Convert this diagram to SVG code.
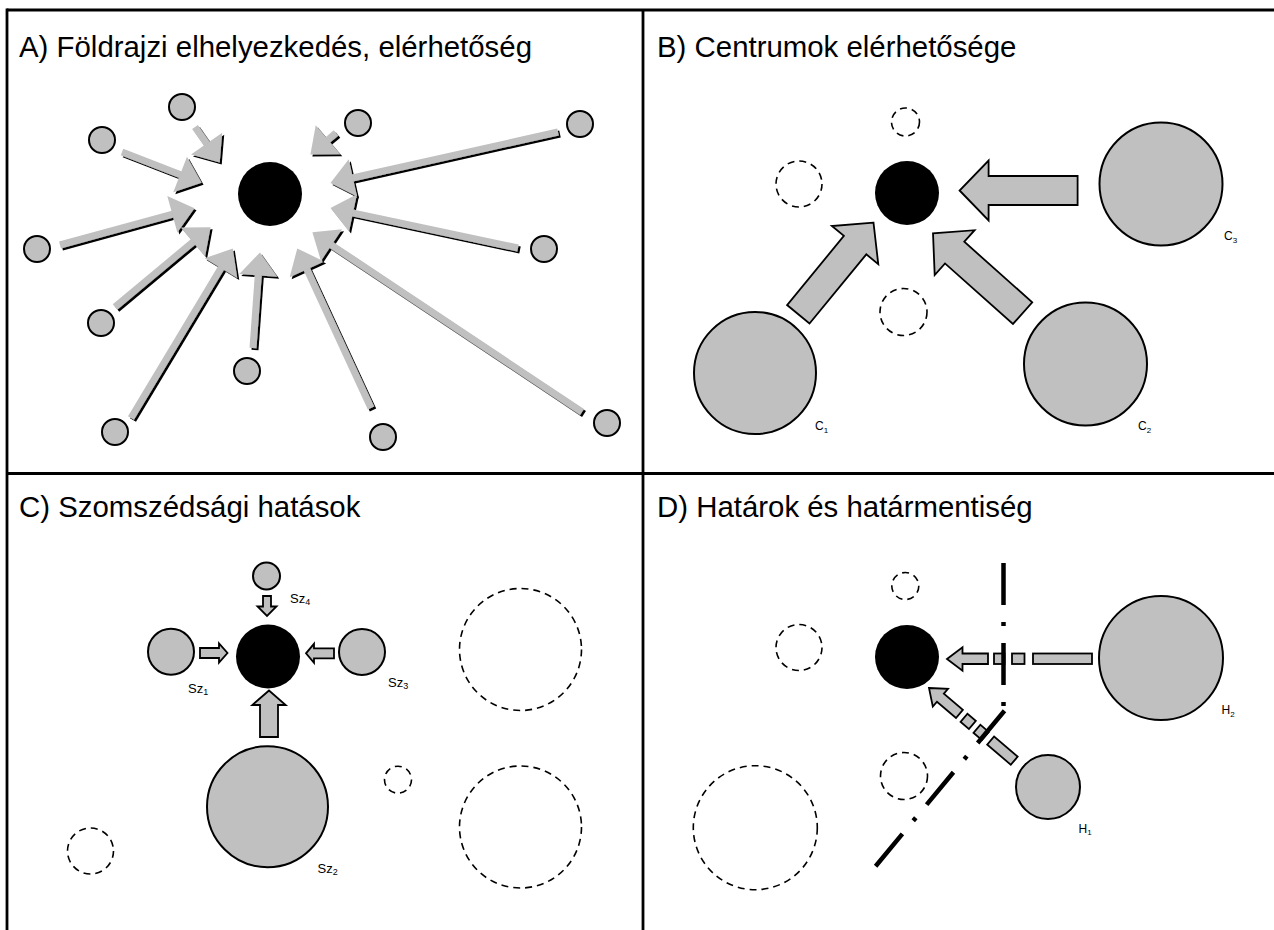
<svg xmlns="http://www.w3.org/2000/svg" width="1274" height="930" viewBox="0 0 1274 930">
<style>
.title{font-family:"Liberation Sans",Arial,sans-serif;font-size:29.4px;fill:#000}
.lbl{font-family:"Liberation Sans",Arial,sans-serif;font-size:13px;fill:#000}
.lblc{font-family:"Liberation Sans",Arial,sans-serif;font-size:12px;fill:#000}
.g{fill:#c0c0c0;stroke:#000;stroke-width:2}
.blk{fill:#000}
.dash{fill:none;stroke:#000;stroke-width:1.6;stroke-dasharray:7 5}
.ar{stroke:#c0c0c0;stroke-width:7;fill:none;marker-end:url(#ahA);filter:url(#sh)}
.ba{fill:#c0c0c0;stroke:#000;stroke-width:1.8;stroke-linejoin:miter}
.bd{fill:none;stroke:#000;stroke-width:4.5;stroke-dasharray:42 17 4 17}
.frame{stroke:#000;stroke-width:2.8;fill:none}
</style>
<defs>
<marker id="ahA" markerUnits="userSpaceOnUse" viewBox="0 0 23 38" markerWidth="23" markerHeight="38" refX="0.5" refY="19" orient="auto" overflow="visible">
<path d="M0,0 L23,19 L0,38 Z" fill="#c0c0c0"/>
</marker>
<filter id="sh" filterUnits="userSpaceOnUse" x="0" y="0" width="1274" height="930">
<feOffset in="SourceAlpha" dx="2" dy="2" result="o"/>
<feMerge><feMergeNode in="o"/><feMergeNode in="SourceGraphic"/></feMerge>
</filter>
</defs>
<rect width="1274" height="930" fill="#fff"/>
<g id="frame">
<line class="frame" x1="7" y1="10" x2="1274" y2="10"/>
<line class="frame" x1="7" y1="8.6" x2="7" y2="930"/>
<line class="frame" x1="643" y1="10" x2="643" y2="930"/>
<line class="frame" x1="7" y1="473.5" x2="1274" y2="473.5"/>
</g>
<g id="titles">
<text class="title" x="19" y="57">A) Földrajzi elhelyezkedés, elérhetőség</text>
<text class="title" x="657" y="57">B) Centrumok elérhetősége</text>
<text class="title" x="19" y="517">C) Szomszédsági hatások</text>
<text class="title" x="657" y="517">D) Határok és határmentiség</text>
</g>
<!-- Panel A -->
<g id="panelA-connectors">
<line class="ar" x1="195" y1="127" x2="206.9" y2="144.1"/>
<line class="ar" x1="122" y1="152" x2="180.6" y2="174.7"/>
<line class="ar" x1="336" y1="133" x2="327.6" y2="140.1"/>
<line class="ar" x1="558" y1="132" x2="352.4" y2="178"/>
<line class="ar" x1="60" y1="245" x2="172.8" y2="214.1"/>
<line class="ar" x1="518" y1="248" x2="352.5" y2="212.8"/>
<line class="ar" x1="115" y1="307" x2="193.3" y2="241.7"/>
<line class="ar" x1="131" y1="418" x2="221.2" y2="267.7"/>
<line class="ar" x1="253" y1="348" x2="258.3" y2="274.9"/>
<line class="ar" x1="371" y1="408" x2="306.7" y2="268.9"/>
<line class="ar" x1="582" y1="412" x2="331.1" y2="244.8"/>
</g>
<g id="A-center"><circle class="blk" cx="270" cy="194" r="32"/></g>
<g id="A-nodes">
<circle class="g" cx="182" cy="107" r="13"/>
<circle class="g" cx="102" cy="140" r="13"/>
<circle class="g" cx="358" cy="123" r="13"/>
<circle class="g" cx="580" cy="124" r="13"/>
<circle class="g" cx="37" cy="249" r="13"/>
<circle class="g" cx="544" cy="249" r="13"/>
<circle class="g" cx="101" cy="323" r="13"/>
<circle class="g" cx="247" cy="371" r="13"/>
<circle class="g" cx="115" cy="432" r="13"/>
<circle class="g" cx="383" cy="437" r="13"/>
<circle class="g" cx="607" cy="423" r="13"/>
</g>
<!-- Panel B -->
<g id="B-center"><circle class="blk" cx="907" cy="193" r="32"/></g>
<g id="B-empty">
<circle class="dash" cx="905.5" cy="122" r="14"/>
<circle class="dash" cx="799" cy="184" r="23"/>
<circle class="dash" cx="903.5" cy="312" r="23.5"/>
</g>
<g id="B-C1"><circle class="g" cx="755" cy="373" r="61"/><text class="lblc" x="815" y="430">C<tspan font-size="8" dy="2.5">1</tspan></text></g>
<g id="B-C2"><circle class="g" cx="1085.5" cy="364" r="61.5"/><text class="lblc" x="1138" y="430">C<tspan font-size="8" dy="2.5">2</tspan></text></g>
<g id="B-C3"><circle class="g" cx="1161" cy="184" r="61.5"/><text class="lblc" x="1224" y="240">C<tspan font-size="8" dy="2.5">3</tspan></text></g>
<g id="B-connectors">
<polygon class="ba" transform="translate(959.6,190.5) rotate(180)" points="0,0 -29,-30 -29,-14.5 -118,-14.5 -118,14.5 -29,14.5 -29,30"/>
<polygon class="ba" transform="translate(873.5,222.7) rotate(-50.6)" points="0,0 -29,-30 -29,-14.5 -118.5,-14.5 -118.5,14.5 -29,14.5 -29,30"/>
<polygon class="ba" transform="translate(933,233.3) rotate(221.7)" points="0,0 -29,-30 -29,-14.5 -120,-14.5 -120,14.5 -29,14.5 -29,30"/>
</g>
<!-- Panel C -->
<g id="C-center"><circle class="blk" cx="268" cy="656.5" r="32"/></g>
<g id="C-Sz4"><circle class="g" cx="266.5" cy="576" r="13.5"/><text class="lbl" x="290" y="603">Sz<tspan font-size="9" dy="2">4</tspan></text></g>
<g id="C-Sz1"><circle class="g" cx="171" cy="651.7" r="23"/><text class="lbl" x="188" y="693">Sz<tspan font-size="9" dy="2">1</tspan></text></g>
<g id="C-Sz3"><circle class="g" cx="362" cy="652" r="23"/><text class="lbl" x="388" y="687">Sz<tspan font-size="9" dy="2">3</tspan></text></g>
<g id="C-Sz2"><circle class="g" cx="267.5" cy="806.7" r="60.5"/><text class="lbl" x="317.5" y="873">Sz<tspan font-size="9" dy="2">2</tspan></text></g>
<g id="C-empty">
<circle class="dash" cx="520.5" cy="649.5" r="61"/>
<circle class="dash" cx="520.5" cy="827" r="61"/>
<circle class="dash" cx="398" cy="779.7" r="13.5"/>
<circle class="dash" cx="90.5" cy="851" r="23"/>
</g>
<g id="C-connectors">
<polygon class="ba" points="263,596 271,596 271,606.5 276.5,606.5 267,616 257.5,606.5 263,606.5"/>
<polygon class="ba" points="200,648 219,648 219,643.3 227.5,653 219,662.7 219,658 200,658"/>
<polygon class="ba" points="334,648.3 314,648.3 314,643.8 306,653.3 314,662.8 314,658.3 334,658.3"/>
<polygon class="ba" points="260,737 260,705 252.3,705 269,690.5 285.7,705 278,705 278,737"/>
</g>
<!-- Panel D -->
<g id="D-center"><circle class="blk" cx="907" cy="657" r="32"/></g>
<g id="D-empty">
<circle class="dash" cx="905.3" cy="586" r="13.5"/>
<circle class="dash" cx="799" cy="647.5" r="23"/>
<circle class="dash" cx="904" cy="776" r="23.5"/>
<circle class="dash" cx="755.3" cy="827.7" r="62"/>
</g>
<g id="D-H2"><circle class="g" cx="1161" cy="658" r="62"/><text class="lblc" x="1221.5" y="714">H<tspan font-size="8" dy="2.5">2</tspan></text></g>
<g id="D-H1"><circle class="g" cx="1048" cy="787" r="32"/><text class="lblc" x="1078.5" y="832.5">H<tspan font-size="8" dy="2.5">1</tspan></text></g>
<g id="D-connectors">
<g>
<polygon class="ba" points="947,659 962.5,647.3 962.5,653.5 988,653.5 988,664 962.5,664 962.5,670.7"/>
<rect class="ba" x="994" y="653.5" width="10.5" height="10.5"/>
<rect class="ba" x="1012" y="653.5" width="12.5" height="10.5"/>
<rect class="ba" x="1033" y="653.5" width="59" height="10.5"/>
</g>
<g transform="translate(929,688) rotate(40.45)">
<polygon class="ba" points="0,0 15,-11.7 15,-5.3 40,-5.3 40,5.3 15,5.3 15,11.7"/>
<rect class="ba" x="46" y="-5.3" width="11" height="10.6"/>
<rect class="ba" x="63" y="-5.3" width="11" height="10.6"/>
<rect class="ba" x="81" y="-5.3" width="31" height="10.6"/>
</g>
</g>
<g id="D-border">
<line class="bd" x1="1003.5" y1="563" x2="1003.5" y2="706"/>
<line class="bd" x1="1004.5" y1="710.7" x2="874.7" y2="867.3"/>
</g>
</svg>
